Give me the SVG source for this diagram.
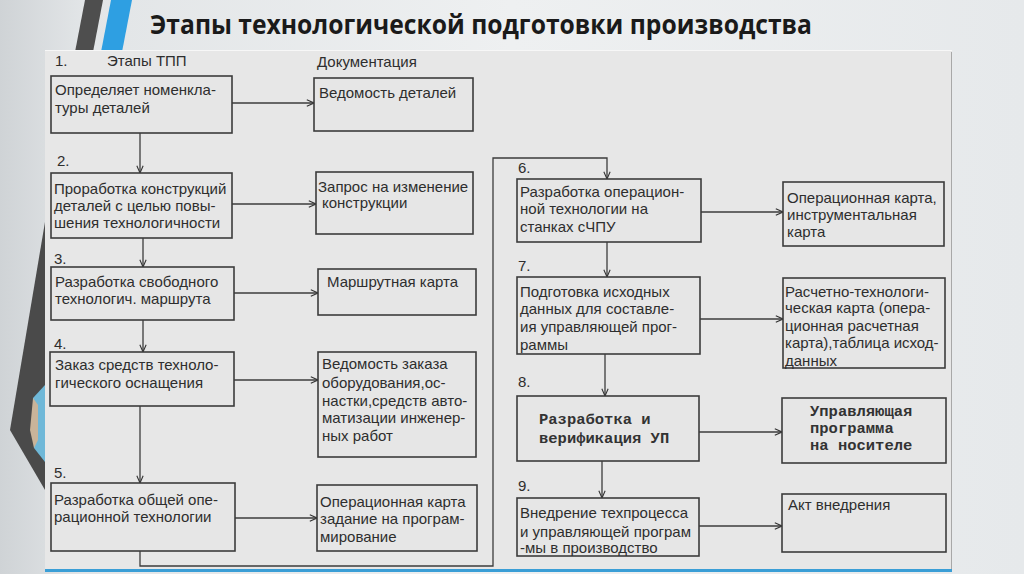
<svg xmlns="http://www.w3.org/2000/svg" width="1024" height="574" viewBox="0 0 1024 574">
<defs>
<linearGradient id="bg" x1="0" y1="0" x2="1" y2="0">
<stop offset="0" stop-color="#cfd3d6"/>
<stop offset="0.08" stop-color="#e2e5e7"/>
<stop offset="0.5" stop-color="#eef0f1"/>
<stop offset="1" stop-color="#e6e9eb"/>
</linearGradient>
<marker id="ar" viewBox="0 0 10 10" refX="9" refY="5" markerWidth="9" markerHeight="9" markerUnits="userSpaceOnUse" orient="auto">
<path d="M1,1.5 L9,5 L1,8.5" fill="none" stroke="#333" stroke-width="1.2"/>
</marker>
<style>
.bx{fill:#e6e6e6;stroke:#3c3c3c;stroke-width:1.6}
.t{font-family:"Liberation Sans",Arial,sans-serif;font-size:15px;fill:#2e2e2e}
.m{font-family:"Liberation Mono","Courier New",monospace;font-size:15.5px;font-weight:bold;fill:#333}
.c{fill:none;stroke:#3c3c3c;stroke-width:1.3}
.a{marker-end:url(#ar)}
</style>
</defs>
<rect x="0" y="0" width="1024" height="574" fill="url(#bg)"/>
<g id="decor">
<polygon points="85,0 103,0 93,52 75,52" fill="#4e4e4e"/>
<polygon points="111,0 132,0 122,52 101,52" fill="#2e9fe2"/>
<polygon points="45,222 10,430 45,490" fill="#4a4a4a"/>
<polygon points="45,385 33,398 34,448 45,462" fill="#6fb8d8"/>
<polygon points="33,398 30,430 34,448 38,440 38,405" fill="#c9b49a"/>
</g>
<text x="150" y="34" font-family="'Open Sans','Noto Sans',sans-serif" font-weight="bold" font-size="26" fill="#1a1a1a" textLength="662" lengthAdjust="spacingAndGlyphs">Этапы технологической подготовки производства</text>
<rect x="45" y="50" width="907" height="519" fill="#e7e7e7"/>
<line x1="45" y1="50.5" x2="952" y2="50.5" stroke="#f7f7f7" stroke-width="1"/>
<line x1="951.5" y1="52" x2="951.5" y2="569" stroke="#a8a8a8" stroke-width="1"/>
<rect x="45" y="569" width="907" height="3" fill="#3a9ed6"/>
<text class="t" x="55" y="66">1.</text>
<text class="t" x="107" y="66">Этапы ТПП</text>
<text class="t" x="317" y="67">Документация</text>
<g id="connectors">
<line class="c a" x1="140" y1="133" x2="140" y2="173"/>
<line class="c a" x1="143" y1="238" x2="143" y2="267"/>
<line class="c a" x1="143" y1="320" x2="143" y2="352"/>
<line class="c a" x1="140" y1="406" x2="140" y2="483"/>
<polyline class="c a" points="140,551 140,566 493,566 493,158 607,158 607,179"/>
<line class="c a" x1="607" y1="242" x2="607" y2="277"/>
<line class="c a" x1="605" y1="354" x2="605" y2="396"/>
<line class="c a" x1="602" y1="461" x2="602" y2="498"/>
<line class="c a" x1="232" y1="103" x2="314" y2="103"/>
<line class="c a" x1="232" y1="204" x2="316" y2="204"/>
<line class="c a" x1="234" y1="293" x2="318" y2="293"/>
<line class="c a" x1="234" y1="380" x2="318" y2="380"/>
<line class="c a" x1="235" y1="518" x2="317" y2="518"/>
<line class="c a" x1="701" y1="212" x2="783" y2="212"/>
<line class="c a" x1="700" y1="319" x2="783" y2="319"/>
<line class="c a" x1="699" y1="432" x2="782" y2="432"/>
<line class="c a" x1="699" y1="526" x2="782" y2="526"/>
</g>
<g id="s1">
<rect class="bx" x="51" y="76" width="181" height="57"/>
<text class="t" x="55" y="95">Определяет номенкла-</text>
<text class="t" x="55" y="113">туры деталей</text>
</g>
<g id="s2">
<text class="t" x="57" y="166">2.</text>
<rect class="bx" x="51" y="173" width="181" height="65"/>
<text class="t" x="54" y="194">Проработка конструкций</text>
<text class="t" x="54" y="211">деталей с целью повы-</text>
<text class="t" x="54" y="228">шения технологичности</text>
</g>
<g id="s3">
<text class="t" x="54" y="264">3.</text>
<rect class="bx" x="51" y="267" width="183" height="53"/>
<text class="t" x="55" y="287">Разработка свободного</text>
<text class="t" x="55" y="304">технологич. маршрута</text>
</g>
<g id="s4">
<text class="t" x="54" y="349">4.</text>
<rect class="bx" x="50" y="352" width="184" height="54"/>
<text class="t" x="55" y="370">Заказ средств техноло-</text>
<text class="t" x="55" y="388">гического оснащения</text>
</g>
<g id="s5">
<text class="t" x="54" y="478">5.</text>
<rect class="bx" x="51" y="483" width="184" height="68"/>
<text class="t" x="54" y="505">Разработка общей опе-</text>
<text class="t" x="54" y="522">рационной технологии</text>
</g>
<g id="d1">
<rect class="bx" x="314" y="78" width="159" height="53"/>
<text class="t" x="319" y="98">Ведомость деталей</text>
</g>
<g id="d2">
<rect class="bx" x="316" y="172" width="157" height="62"/>
<text class="t" x="318" y="192">Запрос на изменение</text>
<text class="t" x="322" y="208">конструкции</text>
</g>
<g id="d3">
<rect class="bx" x="318" y="269" width="158" height="46"/>
<text class="t" x="327" y="287">Маршрутная карта</text>
</g>
<g id="d4">
<rect class="bx" x="318" y="352" width="158" height="105"/>
<text class="t" x="322" y="369">Ведомость заказа</text>
<text class="t" x="322" y="388">оборудования,ос-</text>
<text class="t" x="322" y="406">настки,средств авто-</text>
<text class="t" x="322" y="423">матизации инженер-</text>
<text class="t" x="322" y="441">ных работ</text>
</g>
<g id="d5">
<rect class="bx" x="317" y="485" width="160" height="66"/>
<text class="t" x="320" y="507">Операционная карта</text>
<text class="t" x="320" y="524">задание на програм-</text>
<text class="t" x="320" y="542">мирование</text>
</g>
<g id="s6">
<text class="t" x="518" y="173">6.</text>
<rect class="bx" x="517" y="179" width="184" height="63"/>
<text class="t" x="520" y="197">Разработка операцион-</text>
<text class="t" x="520" y="214">ной технологии на</text>
<text class="t" x="520" y="232">станках сЧПУ</text>
</g>
<g id="s7">
<text class="t" x="518" y="271">7.</text>
<rect class="bx" x="517" y="277" width="183" height="77"/>
<text class="t" x="520" y="297">Подготовка исходных</text>
<text class="t" x="520" y="314">данных для составле-</text>
<text class="t" x="520" y="332">ия управляющей прог-</text>
<text class="t" x="520" y="350">раммы</text>
</g>
<g id="s8">
<text class="t" x="518" y="387">8.</text>
<rect class="bx" x="517" y="396" width="182" height="65"/>
<text class="m" x="539" y="424">Разработка и</text>
<text class="m" x="539" y="443">верификация УП</text>
</g>
<g id="s9">
<text class="t" x="518" y="491">9.</text>
<rect class="bx" x="517" y="498" width="182" height="58"/>
<text class="t" x="520" y="518">Внедрение техпроцесса</text>
<text class="t" x="520" y="537">и управляющей програм</text>
<text class="t" x="520" y="553">-мы в производство</text>
</g>
<g id="d6">
<rect class="bx" x="783" y="182" width="161" height="64"/>
<text class="t" x="787" y="203">Операционная карта,</text>
<text class="t" x="787" y="220">инструментальная</text>
<text class="t" x="787" y="237">карта</text>
</g>
<g id="d7">
<rect class="bx" x="783" y="278" width="162" height="90"/>
<text class="t" x="785" y="297">Расчетно-технологи-</text>
<text class="t" x="785" y="313">ческая карта (опера-</text>
<text class="t" x="785" y="331">ционная расчетная</text>
<text class="t" x="785" y="348">карта),таблица исход-</text>
<text class="t" x="785" y="366">данных</text>
</g>
<g id="d8">
<rect class="bx" x="782" y="398" width="164" height="65"/>
<text class="m" x="810" y="416">Управляющая</text>
<text class="m" x="810" y="433">программа</text>
<text class="m" x="810" y="450">на носителе</text>
</g>
<g id="d9">
<rect class="bx" x="782" y="494" width="164" height="58"/>
<text class="t" x="788" y="510">Акт внедрения</text>
</g>
</svg>
